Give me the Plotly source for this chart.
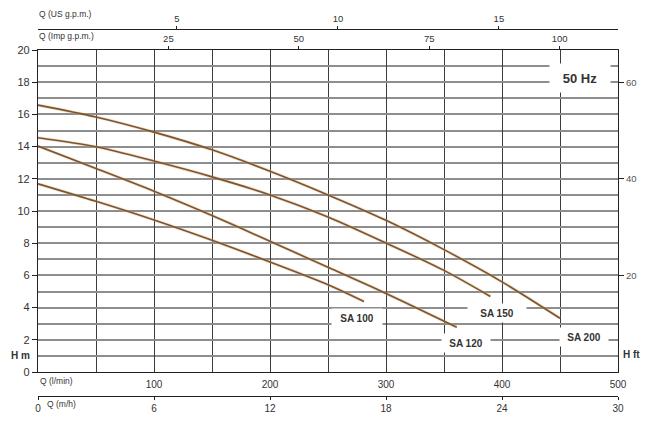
import plotly.graph_objects as go

# ---- data ----
q_sa200 = [0, 50, 100, 150, 200, 250, 300, 350, 400, 450]
h_sa200 = [16.58, 15.84, 14.9, 13.8, 12.47, 11.0, 9.42, 7.6, 5.6, 3.34]

q_sa150 = [0, 50, 100, 150, 200, 250, 300, 350, 390]
h_sa150 = [14.55, 13.99, 13.1, 12.12, 11.0, 9.63, 8.01, 6.31, 4.69]

q_sa120 = [0, 50, 100, 150, 200, 250, 300, 361]
h_sa120 = [14.03, 12.64, 11.23, 9.72, 8.12, 6.5, 4.88, 2.78]

q_sa100 = [0, 50, 100, 150, 200, 250, 281]
h_sa100 = [11.69, 10.6, 9.44, 8.18, 6.83, 5.42, 4.38]

series = [("SA 200", q_sa200, h_sa200), ("SA 150", q_sa150, h_sa150),
          ("SA 120", q_sa120, h_sa120), ("SA 100", q_sa100, h_sa100)]

lmin_ticks = [100, 200, 300, 400, 500]
m3h_ticks = [0, 6, 12, 18, 24, 30]
imp_ticks = [25, 50, 75, 100]
us_ticks = [5, 10, 15]
hm_ticks = [0, 2, 4, 6, 8, 10, 12, 14, 16, 18, 20]
hft_ticks = [20, 40, 60]

# curve label positions (Q l/min, H m)
label_pos = {"SA 100": (274.7, 3.37), "SA 150": (395.4, 3.65),
             "SA 120": (369.1, 1.78), "SA 200": (470.4, 2.16)}
label_box_w = {"SA 100": 50, "SA 150": 58, "SA 120": 48, "SA 200": 48}

FONT = "Liberation Sans, Arial, sans-serif"
TXT = "#333333"
CURVE = "#7a5433"

fig = go.Figure()
for name, q, h in series:
    fig.add_trace(go.Scatter(x=q, y=h, mode="lines", line=dict(color="rgba(222,175,118,0.4)", width=3.2, shape="spline", smoothing=0.8),
                             hoverinfo="skip", showlegend=False))
    fig.add_trace(go.Scatter(x=q, y=h, mode="lines", name=name, line=dict(color=CURVE, width=1.6, shape="spline", smoothing=0.8),
                             showlegend=False))

# dummy traces to instantiate the extra axes
fig.add_trace(go.Scatter(x=[None], y=[None], xaxis="x2", yaxis="y", showlegend=False, hoverinfo="skip"))
fig.add_trace(go.Scatter(x=[None], y=[None], xaxis="x3", yaxis="y", showlegend=False, hoverinfo="skip"))
fig.add_trace(go.Scatter(x=[None], y=[None], xaxis="x4", yaxis="y", showlegend=False, hoverinfo="skip"))
fig.add_trace(go.Scatter(x=[None], y=[None], xaxis="x", yaxis="y2", showlegend=False, hoverinfo="skip"))

ydom = [24 / 367, 346 / 367]
GRIDH = "#8e8e8e"
GRIDV = "#3c3c3c"
LINE = "#222222"

fig.update_layout(
    width=650, height=428,
    margin=dict(l=38, r=32, t=29, b=32, pad=0),
    paper_bgcolor="white", plot_bgcolor="white",
    font=dict(family=FONT, color=TXT, size=10),
    xaxis=dict(range=[0, 500], domain=[0, 1], anchor="y", tickvals=lmin_ticks,
               ticks="", showline=True, linecolor=LINE, linewidth=1.2, ticklabelstandoff=3,
               showgrid=True, gridcolor=GRIDV, gridwidth=1.2, zeroline=False,
               minor=dict(dtick=50, showgrid=True, gridcolor=GRIDV, gridwidth=1.2),
               tickfont=dict(size=10, color=TXT), fixedrange=True),
    yaxis=dict(range=[0, 20], domain=ydom, anchor="x", tickvals=hm_ticks,
               ticks="outside", ticklen=5, tickcolor=LINE, showline=True, linecolor=LINE, linewidth=1.2,
               showgrid=True, gridcolor=GRIDH, gridwidth=1.6, zeroline=False,
               minor=dict(dtick=1, showgrid=True, gridcolor=GRIDH, gridwidth=1.6, ticks=""),
               tickfont=dict(size=11, color=TXT), fixedrange=True),
    yaxis2=dict(range=[0, 66.667], overlaying="y", side="right", anchor="x", tickvals=hft_ticks,
                ticks="outside", ticklen=5, tickcolor=LINE, showline=True, linecolor=LINE, linewidth=1.2,
                showgrid=False, zeroline=False, tickfont=dict(size=9.5, color="#555555"), fixedrange=True),
    xaxis2=dict(range=[0, 30], overlaying="x", side="bottom", anchor="free", position=0,
                tickvals=m3h_ticks, ticks="outside", ticklen=3, tickcolor=LINE, showline=True,
                linecolor=LINE, linewidth=1.2, showgrid=False, zeroline=False,
                tickfont=dict(size=10, color=TXT), fixedrange=True),
    xaxis3=dict(range=[0, 111.2], overlaying="x", side="top", anchor="y",
                tickvals=imp_ticks, ticks="outside", ticklen=3, tickcolor=LINE, showline=True,
                linecolor=LINE, linewidth=1.2, showgrid=False, zeroline=False,
                tickfont=dict(size=9.5, color=TXT), fixedrange=True),
    xaxis4=dict(range=[0.683, 18.70], overlaying="x", side="top", anchor="free", position=1,
                tickvals=us_ticks, ticks="outside", ticklen=3, tickcolor=LINE, showline=True,
                linecolor=LINE, linewidth=1.2, showgrid=False, zeroline=False,
                tickfont=dict(size=9.5, color=TXT), fixedrange=True),
)

def py(ypx):
    return (396 - ypx) / 367

def px(xpx):
    return (xpx - 38) / 580

ann = [
    dict(text="Q (US g.p.m.)", x=px(37), y=py(14), xanchor="left", yanchor="middle", font=dict(size=8.5)),
    dict(text="Q (Imp g.p.m.)", x=px(37), y=py(36), xanchor="left", yanchor="middle", font=dict(size=8.5)),
    dict(text="Q (l/min)", x=px(38), y=py(381), xanchor="left", yanchor="middle", font=dict(size=8.5)),
    dict(text="Q (m/h)", x=px(45), y=py(404), xanchor="left", yanchor="middle", font=dict(size=8.5)),
    dict(text="<b>H m</b>", x=px(20), y=py(355), xanchor="center", yanchor="middle", font=dict(size=10)),
    dict(text="<b>H ft</b>", x=px(631), y=py(354), xanchor="center", yanchor="middle", font=dict(size=10)),
]
for a in ann:
    a.update(xref="paper", yref="paper", showarrow=False)
    fig.add_annotation(**a)

for name, (qx, hy) in label_pos.items():
    fig.add_annotation(x=qx, y=hy, xref="x", yref="y", text="<b>%s</b>" % name, showarrow=False,
                       bgcolor="white", width=label_box_w[name], height=18, borderpad=0,
                       font=dict(size=10, color=TXT))

fig.add_annotation(x=467, y=18.26, xref="x", yref="y", text="<b>50 Hz</b>", showarrow=False,
                   bgcolor="white", width=60, height=28, borderpad=0, font=dict(size=13, color=TXT))

fig.write_html("out.html")
